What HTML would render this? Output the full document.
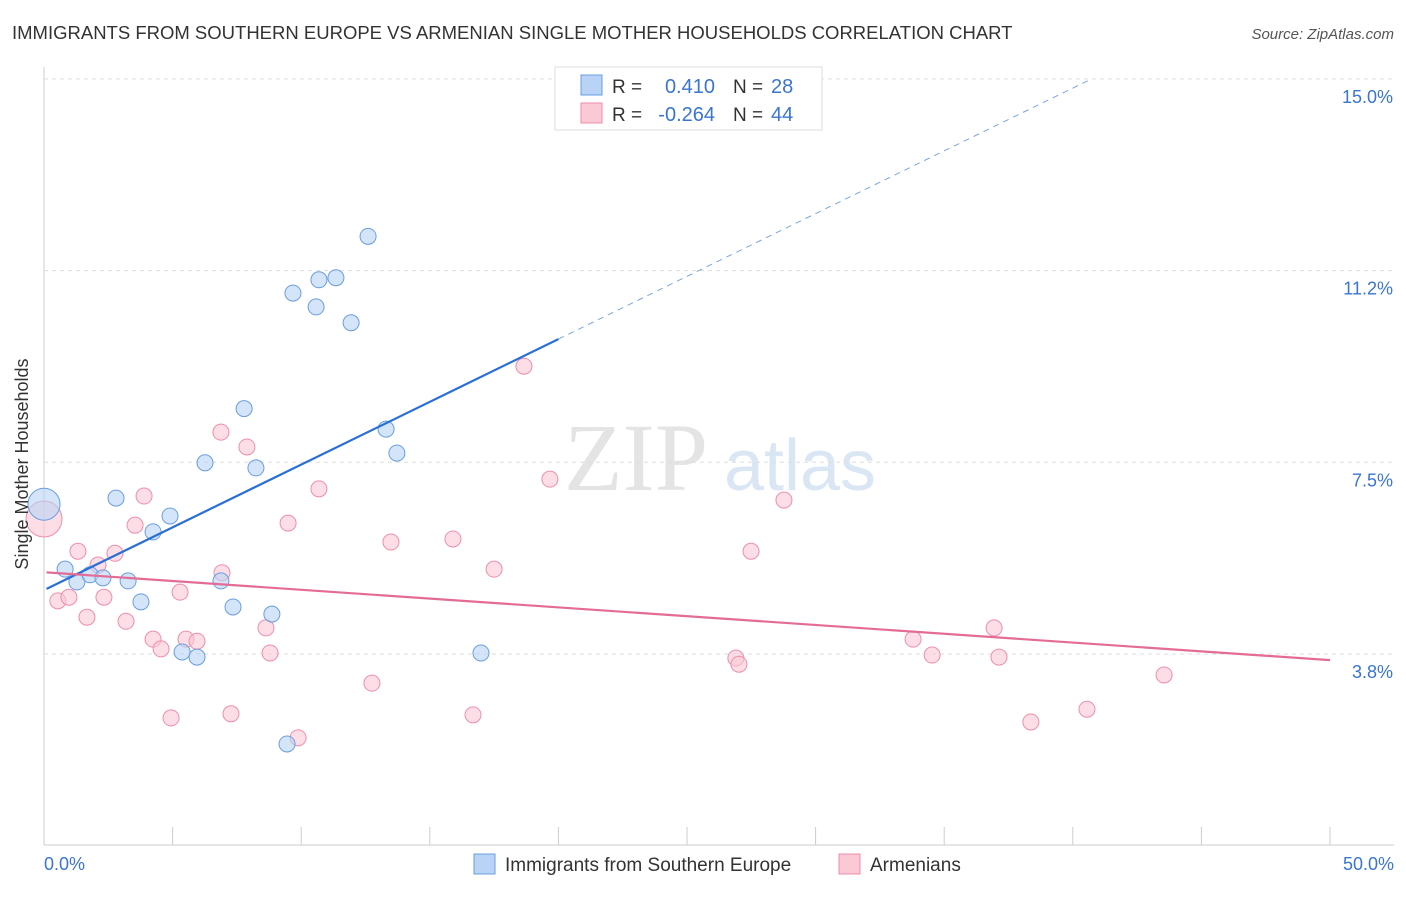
<!DOCTYPE html>
<html><head><meta charset="utf-8"><style>
body{margin:0;background:#fff;font-family:"Liberation Sans",sans-serif}
svg text{font-family:"Liberation Sans",sans-serif}
</style></head><body>
<svg id="c" width="1406" height="892" xmlns="http://www.w3.org/2000/svg">
<text x="12" y="39" font-size="18.5" fill="#333">IMMIGRANTS FROM SOUTHERN EUROPE VS ARMENIAN SINGLE MOTHER HOUSEHOLDS CORRELATION CHART</text>
<text x="1394" y="39" font-size="15" fill="#555" font-style="italic" text-anchor="end">Source: ZipAtlas.com</text>
<text x="636" y="490" font-size="96" fill="#e4e4e4" font-family="Liberation Serif" text-anchor="middle" style="font-family:'Liberation Serif',serif">ZIP</text>
<text x="800" y="490" font-size="72" fill="#dbe6f5" text-anchor="middle">atlas</text>
<g id="grid"></g><g id="pts"></g><g id="lines"></g>
<text x="20" y="456" font-size="18" fill="#333" transform="rotate(-90 28 456)" text-anchor="middle">Single Mother Households</text>
<text x="44" y="870" font-size="18" fill="#3a75d0">0.0%</text>
<text x="1394" y="870" font-size="18" fill="#3a75d0" text-anchor="end">50.0%</text>
<g>
<rect x="555" y="67" width="267" height="63" fill="#fff" stroke="#ddd"/>
<rect x="581" y="75" width="21" height="20" fill="#b8d3f5" stroke="#6a9de0"/>
<rect x="581" y="103" width="21" height="20" fill="#fbc8d6" stroke="#ee8eab"/>
<text x="612" y="93" font-size="19" fill="#333">R =</text><text x="715" y="93" font-size="20" fill="#3a75d0" text-anchor="end">0.410</text>
<text x="733" y="93" font-size="19" fill="#333">N =</text><text x="771" y="93" font-size="20" fill="#3a75d0">28</text>
<text x="612" y="121" font-size="19" fill="#333">R =</text><text x="715" y="121" font-size="20" fill="#3a75d0" text-anchor="end">-0.264</text>
<text x="733" y="121" font-size="19" fill="#333">N =</text><text x="771" y="121" font-size="20" fill="#3a75d0">44</text>
</g>
<g>
<rect x="474" y="854" width="21" height="20" fill="#b8d3f5" stroke="#6a9de0"/>
<text x="505" y="871" font-size="19" fill="#333">Immigrants from Southern Europe</text>
<rect x="839" y="854" width="21" height="20" fill="#fbc8d6" stroke="#ee8eab"/>
<text x="870" y="871" font-size="19" fill="#333">Armenians</text>
</g>
</svg>
<script>
const yTicks=[3.75,7.5,11.25,15];
const yTickLabels=["3.8%","7.5%","11.2%","15.0%"];
const xTicks=[0,5,10,15,20,25,30,35,40,45,50];
const blueX=[0,0.82,1.28,1.79,2.29,2.8,3.27,3.77,4.24,4.9,5.37,5.95,6.26,6.88,7.35,7.78,8.24,8.86,9.45,9.68,10.58,10.69,11.35,11.94,12.6,13.3,13.72,16.99];
const blueY=[6.68,5.41,5.16,5.3,5.24,6.8,5.18,4.77,6.14,6.45,3.79,3.69,7.49,5.18,4.67,8.55,7.39,4.53,1.99,10.81,10.54,11.07,11.11,10.23,11.92,8.15,7.68,3.77];
const pinkX=[0,0.54,0.97,1.32,1.67,2.1,2.33,2.76,3.19,3.54,3.89,4.24,4.55,4.94,5.29,5.52,5.95,6.88,6.92,7.27,7.89,8.63,8.79,9.49,9.88,10.69,12.75,13.49,15.9,16.68,17.5,18.66,19.67,26.9,27.02,27.49,28.77,33.79,34.53,36.94,37.13,38.37,40.55,43.55];
const pinkY=[6.39,4.79,4.86,5.76,4.47,5.49,4.86,5.72,4.39,6.27,6.84,4.04,3.85,2.5,4.96,4.04,4,8.09,5.34,2.58,7.8,4.26,3.77,6.31,2.11,6.98,3.18,5.94,6,2.56,5.41,9.38,7.17,3.67,3.55,5.76,6.76,4.04,3.73,4.26,3.69,2.42,2.67,3.34];
const blueTrend=[5.0,0.2455];
const pinkTrend=[5.35,-0.0344];
const X=v=>44+v*25.72, Y=v=>845.7-v*51.12;
const NS="http://www.w3.org/2000/svg";
function mk(t,a,p){const e=document.createElementNS(NS,t);for(const k in a)e.setAttribute(k,a[k]);document.getElementById(p).appendChild(e);return e;}
let g=mk('line',{x1:44,y1:67,x2:44,y2:845,stroke:'#ccc'},'grid');

g=mk('line',{x1:44,y1:845,x2:1394,y2:845,stroke:'#ccc'},'grid');

yTicks.forEach((t,i)=>{const l=mk('line',{x1:44,y1:Y(t),x2:1394,y2:Y(t),stroke:'#ddd','stroke-dasharray':'4,4'},'grid');

const tx=mk('text',{x:1393,y:Y(t)+24,'font-size':18,fill:'#3a75d0','text-anchor':'end'},'grid');tx.textContent=yTickLabels[i];
});
xTicks.forEach(t=>{const l=mk('line',{x1:X(t),y1:827,x2:X(t),y2:845,stroke:'#ccc'},'grid');
});
function pts(xs,ys,f,s,n){xs.forEach((x,i)=>{const c=mk('circle',{cx:X(x),cy:Y(ys[i]),r:i==0?(n=='blue'?16:18):8,fill:f,'fill-opacity':0.6,stroke:s,'stroke-width':1},'pts');
});}
pts(pinkX,pinkY,'#fbc8d6','#ee8eab','pink');
pts(blueX,blueY,'#b8d3f5','#6a9de0','blue');
let l=mk('line',{x1:X(0.1),y1:Y(blueTrend[0]+0.1*blueTrend[1]),x2:X(20),y2:Y(blueTrend[0]+20*blueTrend[1]),stroke:'#2a6fd6','stroke-width':2.2},'lines');

const xe=(15-blueTrend[0])/blueTrend[1];
l=mk('line',{x1:X(20),y1:Y(blueTrend[0]+20*blueTrend[1]),x2:X(xe),y2:Y(15),stroke:'#7aa5e0','stroke-width':1,'stroke-dasharray':'6,5'},'lines');

l=mk('line',{x1:X(0.1),y1:Y(pinkTrend[0]+0.1*pinkTrend[1]),x2:X(50),y2:Y(pinkTrend[0]+50*pinkTrend[1]),stroke:'#e46b96','stroke-width':2.2},'lines');

</script>
</body></html>
